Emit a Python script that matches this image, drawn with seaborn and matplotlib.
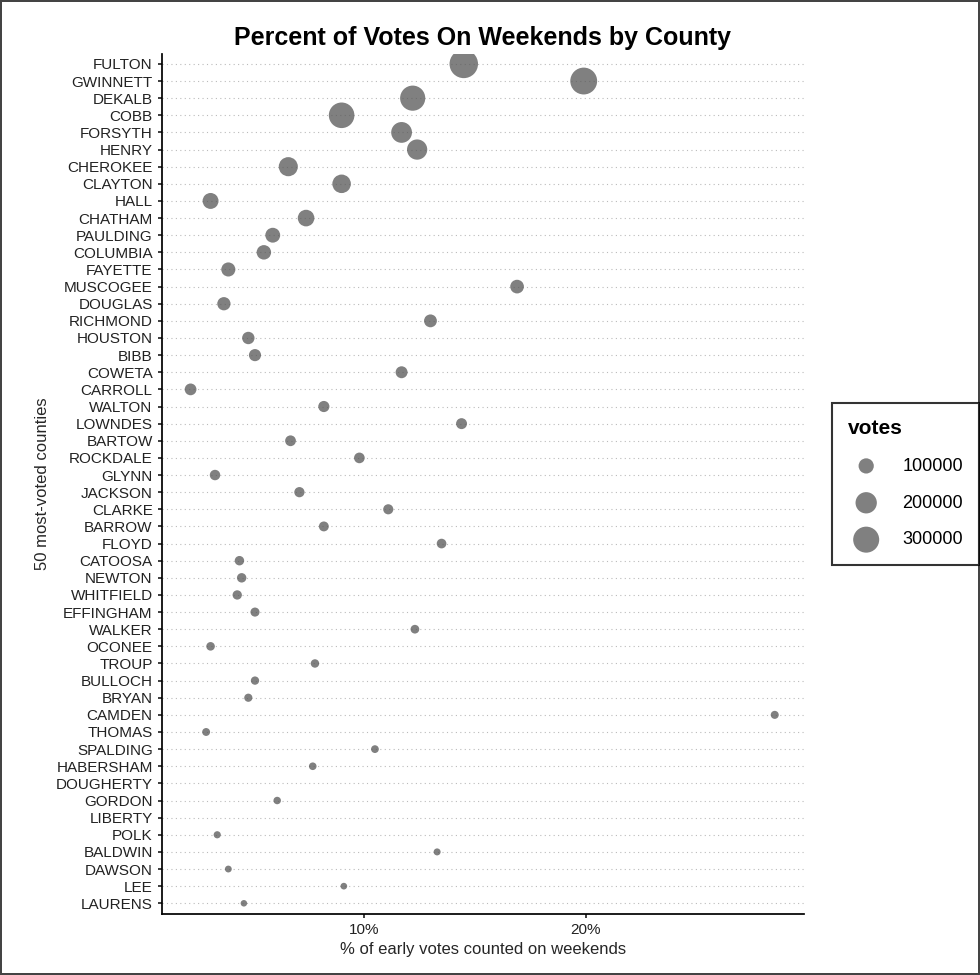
"""
weekend_votes.py
================
Dot plot of the share of early votes counted on weekends for the
50 most-voted Georgia counties, sized by total votes.
"""

import numpy as np
import pandas as pd
import matplotlib.pyplot as plt
import seaborn as sns

# Data
COUNTIES = ["FULTON", "GWINNETT", "DEKALB", "COBB", "FORSYTH", "HENRY", "CHEROKEE",
            "CLAYTON", "HALL", "CHATHAM", "PAULDING", "COLUMBIA", "FAYETTE", "MUSCOGEE",
            "DOUGLAS", "RICHMOND", "HOUSTON", "BIBB", "COWETA", "CARROLL", "WALTON",
            "LOWNDES", "BARTOW", "ROCKDALE", "GLYNN", "JACKSON", "CLARKE", "BARROW",
            "FLOYD", "CATOOSA", "NEWTON", "WHITFIELD", "EFFINGHAM", "WALKER", "OCONEE",
            "TROUP", "BULLOCH", "BRYAN", "CAMDEN", "THOMAS", "SPALDING", "HABERSHAM",
            "DOUGHERTY", "GORDON", "LIBERTY", "POLK", "BALDWIN", "DAWSON", "LEE", "LAURENS"]
PCT_WEEKEND = [14.5, 19.9, 12.2, 9.0, 11.7, 12.4, 6.6, 9.0, 3.1, 7.4, 5.9, 5.5, 3.9, 16.9,
               3.7, 13.0, 4.8, 5.1, 11.7, 2.2, 8.2, 14.4, 6.7, 9.8, 3.3, 7.1, 11.1, 8.2,
               13.5, 4.4, 4.5, 4.3, 5.1, 12.3, 3.1, 7.8, 5.1, 4.8, 28.5, 2.9, 10.5, 7.7,
               np.nan, 6.1, np.nan, 3.4, 13.3, 3.9, 9.1, 4.6]
VOTES = [360000, 320000, 280000, 290000, 190000, 180000, 160000, 150000, 110000, 120000,
         95000, 90000, 85000, 80000, 75000, 70000, 65000, 62000, 60000, 58000, 52000,
         50000, 48000, 47000, 45000, 43000, 42000, 40000, 38000, 36000, 36000, 35000,
         33000, 30000, 29000, 28000, 27000, 26000, 25000, 24000, 23000, 22000, 22000,
         21000, 20000, 19000, 18000, 17000, 16000, 15000]

df = pd.DataFrame({"county": COUNTIES, "pct": PCT_WEEKEND, "votes": VOTES})
df["y"] = np.arange(len(df))

sns.set_theme(style="white")
plt.rcParams["font.family"] = ["Liberation Sans", "DejaVu Sans"]
plt.rcParams["text.color"] = "black"
fig, ax = plt.subplots(figsize=(9.8, 9.75), dpi=100)

# Dotted guide line per county
for yy in df["y"]:
    ax.axhline(yy, color="#bbbbbb", linestyle=(0, (1, 3)), linewidth=0.8, zorder=0)

SIZE_NORM = (15000, 360000)
SIZES = (22, 420)
sns.scatterplot(data=df, x="pct", y="y", size="votes", sizes=SIZES, size_norm=SIZE_NORM,
                color="#555555", alpha=0.75, edgecolor="none", legend=False, ax=ax)

ax.set_yticks(df["y"])
ax.set_yticklabels(df["county"], fontsize=11, color="#222222")
ax.set_ylim(len(df) - 0.4, -0.6)
ax.set_xlim(0.9, 29.8)
ax.set_xticks([10, 20])
ax.set_xticklabels(["10%", "20%"], fontsize=11, color="#222222")
ax.set_xlabel("% of early votes counted on weekends", fontsize=12)
ax.set_ylabel("50 most-voted counties", fontsize=12)
ax.set_title("Percent of Votes On Weekends by County", fontsize=18, fontweight="bold", pad=6)
for side in ["top", "right"]:
    ax.spines[side].set_visible(False)
for side in ["left", "bottom"]:
    ax.spines[side].set_color("black")
ax.tick_params(axis="both", length=3, left=True, bottom=True)

# Manual size legend
def area(v):
    return SIZES[0] + (v - SIZE_NORM[0]) / (SIZE_NORM[1] - SIZE_NORM[0]) * (SIZES[1] - SIZES[0])

handles = [ax.scatter([], [], s=area(v), color="#555555", alpha=0.75, edgecolor="none")
           for v in [100000, 200000, 300000]]
leg = ax.legend(handles, ["100000", "200000", "300000"], title="votes", loc="center left",
                bbox_to_anchor=(1.03, 0.5), frameon=True, fontsize=13, labelspacing=1.1,
                borderpad=0.9, handletextpad=1.0, fancybox=False,
                title_fontproperties={"weight": "bold", "size": 15})
leg.get_frame().set_edgecolor("black")
leg.get_frame().set_linewidth(1.5)
leg._legend_box.align = "left"

fig.patch.set_edgecolor("#444444")
fig.patch.set_linewidth(1.5)
plt.subplots_adjust(left=0.165, right=0.82, top=0.945, bottom=0.063)
plt.savefig("out.png", dpi=100, edgecolor=fig.get_edgecolor())
